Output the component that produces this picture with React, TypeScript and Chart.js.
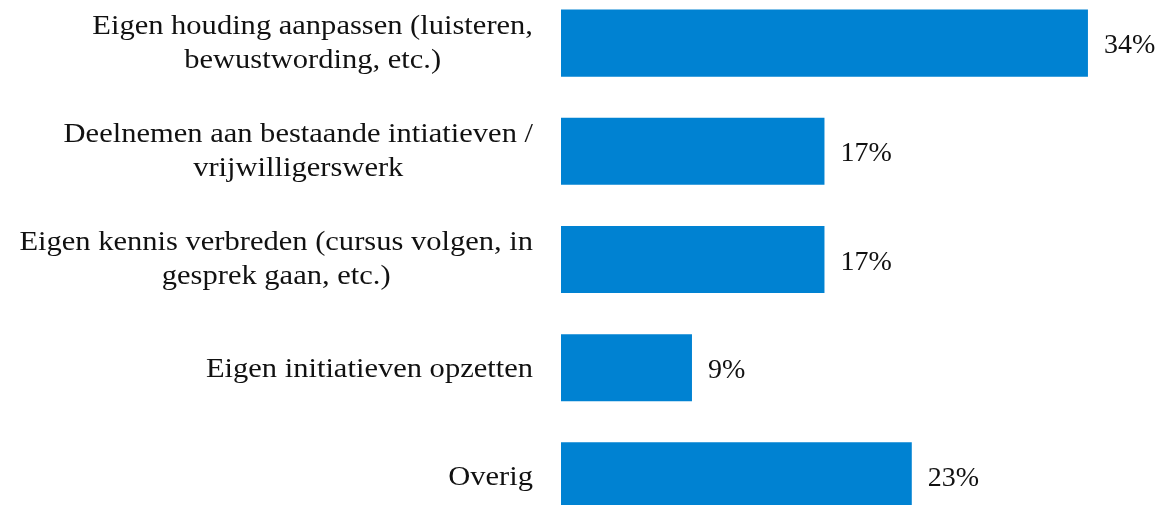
import React, { useEffect, useRef } from "react";
import { Chart, registerables } from "chart.js";

Chart.register(...registerables);

const categories: string[][] = [
  ["Eigen houding aanpassen (luisteren,", "bewustwording, etc.)"],
  ["Deelnemen aan bestaande intiatieven /", "vrijwilligerswerk"],
  ["Eigen kennis verbreden (cursus volgen, in", "gesprek gaan, etc.)"],
  ["Eigen initiatieven opzetten"],
  ["Overig"],
];
const values: number[] = [34.4, 17.2, 17.2, 8.55, 22.9];

const FONT = '28px "Liberation Serif", "DejaVu Serif", serif';
const TEXT_COLOR = "#111111";
const BAR_COLOR = "#0082D2";
const LABEL_STRETCH = 1.09;

const labelPlugin = {
  id: "customLabels",
  afterDraw(chart: any) {
    const ctx = chart.ctx;
    const yScale = chart.scales.y;
    const meta = chart.getDatasetMeta(0);
    ctx.save();
    ctx.font = FONT;
    ctx.fillStyle = TEXT_COLOR;
    ctx.textBaseline = "alphabetic";
    const lineH = 34;
    const rightEdge = 533;
    categories.forEach((lines, i) => {
      const cy = yScale.getPixelForValue(i);
      const baseOff = lines.length > 1 ? 7.5 : 9.5;
      const blockW =
        Math.max(...lines.map((l) => ctx.measureText(l).width)) * LABEL_STRETCH;
      const cx = rightEdge - blockW / 2;
      ctx.textAlign = "center";
      lines.forEach((l, j) => {
        const y = cy + baseOff + (j - (lines.length - 1) / 2) * lineH;
        ctx.save();
        ctx.translate(cx, y);
        ctx.scale(LABEL_STRETCH, 1);
        ctx.fillText(l, 0, 0);
        ctx.restore();
      });
    });
    ctx.textAlign = "left";
    meta.data.forEach((bar: any, i: number) => {
      ctx.fillText(Math.round(values[i]) + "%", bar.x + 16, bar.y + 10);
    });
    ctx.restore();
  },
};

export default function App() {
  const ref = useRef<HTMLCanvasElement>(null);
  useEffect(() => {
    document.body.style.margin = "0";
    document.body.style.overflow = "hidden";
    const chart = new Chart(ref.current!, {
      type: "bar",
      data: {
        labels: categories.map((_, i) => String(i)),
        datasets: [
          {
            data: values,
            backgroundColor: BAR_COLOR,
            borderWidth: 0,
            barPercentage: 0.62,
            categoryPercentage: 1,
          },
        ],
      },
      options: {
        indexAxis: "y",
        animation: false,
        responsive: false,
        layout: { padding: 0 },
        plugins: {
          legend: { display: false },
          tooltip: { enabled: false },
        },
        scales: {
          x: { display: false, min: 0, max: 39.3 },
          y: {
            ticks: { display: false },
            grid: { display: false, drawTicks: false },
            border: { display: false },
            afterFit: (s: any) => {
              s.width = 561;
            },
          },
        },
      },
      plugins: [labelPlugin],
    });
    return () => chart.destroy();
  }, []);
  return (
    <div
      style={{
        position: "fixed",
        top: 0,
        left: 0,
        width: 1163,
        height: 505,
        overflow: "hidden",
        background: "#fff",
      }}
    >
      <div style={{ position: "absolute", top: -11, left: 0 }}>
        <canvas ref={ref} width={1163} height={541} />
      </div>
    </div>
  );
}
